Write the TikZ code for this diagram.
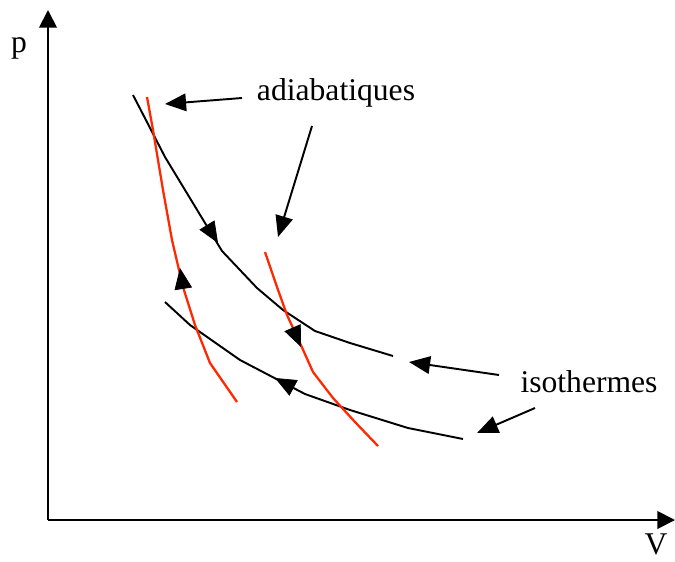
\documentclass[tikz,border=0pt]{standalone}
\usepackage{fontspec}
\setmainfont{Liberation Serif}
\usetikzlibrary{arrows.meta}
\usetikzlibrary{calc}
\definecolor{rouge}{RGB}{255,40,0}

\tikzset{
  axe/.style={line width=1.1pt, -{Triangle[length=10pt,width=10pt]}},
  fleche/.style={line width=1.1pt, -{Triangle[length=12pt,width=10pt]}},
  pointe/.style={-{Triangle[length=12pt,width=10pt]}},
  isotherme/.style={line width=1.1pt, line join=round},
  adiabatique/.style={rouge, line width=1.3pt, line join=round},
  texte/.style={anchor=base, font=\fontsize{18}{20}\selectfont}
}

\begin{document}
\begin{tikzpicture}[x=0.02cm, y=-0.02cm]
    \useasboundingbox (0,0) rectangle (675,561);

    % axes
    \coordinate (O) at (48,520);
    \coordinate (ytop) at (48,10);
    \coordinate (xend) at (675,520);
    \draw[axe] (O) -- (ytop);
    \draw[axe] (O) -- (xend);
    \node[texte] (p) at (19,52) {p};
    \node[texte] (V) at (656,554) {V};

    % isothermes
    \draw[isotherme] plot coordinates {(133,95) (165,157) (222,251) (257,288)
        (283,310) (315,331) (350,343) (393,356)};
    \draw[isotherme] plot coordinates {(165,302) (190,325) (240,360) (305,394)
        (350,410) (408,428) (463,439)};

    % adiabatiques
    \draw[adiabatique] plot coordinates {(147,97) (153,130) (163,190) (172,240)
        (183,287) (195,325) (210,363) (237,402)};
    \draw[adiabatique] plot coordinates {(265,252) (277,287) (287,315) (300,343)
        (313,372) (333,398) (355,422) (378,446)};

    % sens de parcours
    \coordinate (t1) at (218,243); \coordinate (b1) at (165,157);
    \coordinate (t2) at (180,268); \coordinate (b2) at (183,287);
    \coordinate (t3) at (301,347); \coordinate (b3) at (287,315);
    \coordinate (t4) at (275,378); \coordinate (b4) at (305,394);
    \foreach \i in {1,2,3,4} {
        \draw[pointe] ($(t\i)!12pt!(b\i)$) -- (t\i);
    }

    % legendes
    \node[texte] (adia) at (336,100) {adiabatiques};
    \node[texte] (iso) at (589,392) {isothermes};
    \coordinate (a1) at (242,98);
    \coordinate (a2) at (312,126);
    \coordinate (i1) at (499,375);
    \coordinate (i2) at (535,408);
    \coordinate (c1) at (165,104);
    \coordinate (c2) at (278,237);
    \coordinate (c3) at (409,362);
    \coordinate (c4) at (477,433);
    \draw[fleche] (a1) -- (c1);
    \draw[fleche] (a2) -- (c2);
    \draw[fleche] (i1) -- (c3);
    \draw[fleche] (i2) -- (c4);
\end{tikzpicture}
\end{document}
